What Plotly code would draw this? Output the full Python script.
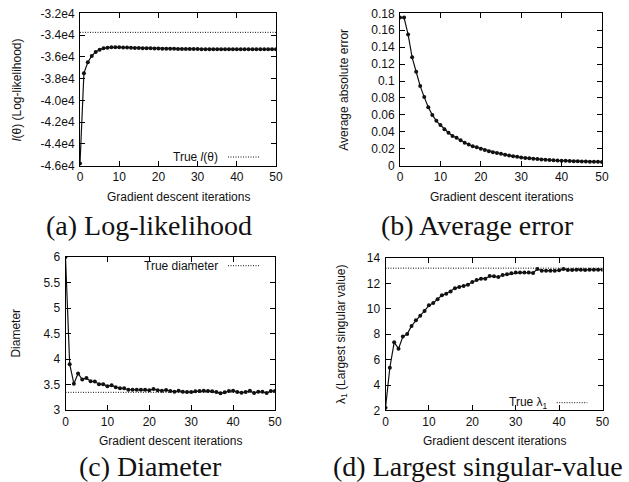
import plotly.graph_objects as go

W, H = 629, 482

# ---------------- data ----------------
ITER = list(range(51))

TRUE_LL = -33750
LOGLIK = [-45800, -37500, -36500, -35920, -35550, -35340, -35220, -35160, -35130, -35120,
          -35130, -35140, -35150, -35160, -35180, -35190, -35200, -35210, -35220, -35230,
          -35240, -35250, -35255, -35260, -35265, -35270, -35275, -35280, -35285, -35290,
          -35290, -35292, -35294, -35295, -35296, -35297, -35298, -35299, -35300, -35300,
          -35301, -35302, -35303, -35304, -35305, -35306, -35307, -35308, -35309, -35310,
          -35310]

AVG_ERR = [0.175, 0.175, 0.155, 0.128, 0.111, 0.094, 0.081, 0.069, 0.060, 0.053,
           0.048, 0.043, 0.039, 0.035, 0.033, 0.030, 0.027, 0.025, 0.023, 0.0217,
           0.020, 0.0185, 0.017, 0.016, 0.015, 0.014, 0.013, 0.012, 0.0112, 0.0105,
           0.0098, 0.0092, 0.0087, 0.0082, 0.0078, 0.0074, 0.0070, 0.0067, 0.0064, 0.0061,
           0.0059, 0.0057, 0.0055, 0.0053, 0.0052, 0.0050, 0.0049, 0.0048, 0.0047, 0.0046,
           0.0045]

TRUE_DIAM = 3.35
DIAM = [6.0, 3.90, 3.52, 3.72, 3.60, 3.63, 3.565, 3.56, 3.51, 3.51,
        3.47, 3.49, 3.45, 3.43, 3.43, 3.40, 3.40, 3.40, 3.40, 3.40,
        3.39, 3.415, 3.39, 3.38, 3.395, 3.375, 3.36, 3.38, 3.36, 3.355,
        3.355, 3.37, 3.375, 3.38, 3.375, 3.37, 3.355, 3.33, 3.35, 3.375,
        3.38, 3.355, 3.34, 3.355, 3.38, 3.335, 3.36, 3.36, 3.335, 3.375,
        3.375]

TRUE_LAMBDA = 13.2
LAMBDA1 = [2.2, 5.36, 7.36, 6.86, 7.81, 8.02, 8.65, 9.09, 9.46, 9.83,
           10.27, 10.46, 10.75, 11.06, 11.19, 11.37, 11.61, 11.72, 11.80, 11.90,
           12.11, 12.27, 12.37, 12.37, 12.58, 12.56, 12.50, 12.66, 12.72, 12.79,
           12.85, 12.85, 12.85, 12.85, 12.82, 13.13, 13.0, 13.0, 13.0, 13.0,
           13.03, 13.13, 13.06, 13.06, 13.08, 13.08, 13.06, 13.08, 13.08, 13.08,
           13.08]

X_TICKS = [0, 10, 20, 30, 40, 50]
LL_TICKS = [-46000, -44000, -42000, -40000, -38000, -36000, -34000, -32000]
LL_LABELS = ["-4.6e4", "-4.4e4", "-4.2e4", "-4.0e4", "-3.8e4", "-3.6e4", "-3.4e4", "-3.2e4"]
ERR_TICKS = [0, 0.02, 0.04, 0.06, 0.08, 0.1, 0.12, 0.14, 0.16, 0.18]
ERR_LABELS = ["0", "0.02", "0.04", "0.06", "0.08", "0.1", "0.12", "0.14", "0.16", "0.18"]
DIAM_TICKS = [3, 3.5, 4, 4.5, 5, 5.5, 6]
DIAM_LABELS = ["3", "3.5", "4", "4.5", "5", "5.5", "6"]
LAM_TICKS = [2, 4, 6, 8, 10, 12, 14]

# ---------------- helpers ----------------
def px(x):
    return x / W

def py(y):
    return 1 - y / H

SANS = "Liberation Sans"
SERIF = "Liberation Serif"
INK = "#111111"
DOTS = "1px,1.5px"

# panel boxes in pixels: (left, right, top, bottom)
BOX = {
    "1": (80, 276, 13.3, 165.7),
    "2": (400, 602, 13.3, 165.7),
    "3": (65.5, 275, 257, 410.2),
    "4": (385.5, 602.5, 258, 410.4),
}

fig = go.Figure()

def add_panel(k, y, true_val, yrange, yticks, ylabels):
    xa = "x" if k == "1" else "x" + k
    ya = "y" if k == "1" else "y" + k
    fig.add_trace(go.Scatter(x=ITER, y=y, mode="lines+markers", xaxis=xa, yaxis=ya,
                             line=dict(color=INK, width=1.2),
                             marker=dict(color=INK, size=4, symbol="circle"),
                             showlegend=False, hoverinfo="skip"))
    if true_val is not None:
        fig.add_trace(go.Scatter(x=[ITER[0], ITER[-1]], y=[true_val, true_val], mode="lines",
                                 xaxis=xa, yaxis=ya,
                                 line=dict(color=INK, width=1, dash=DOTS),
                                 showlegend=False, hoverinfo="skip"))
    l, r, t, b = BOX[k]
    common = dict(showline=True, mirror="allticks", linecolor="black", linewidth=1,
                  ticks="inside", ticklen=5, tickcolor="black", tickwidth=1,
                  showgrid=False, zeroline=False, automargin=False,
                  tickfont=dict(family=SANS, size=12, color=INK))
    xkey = "xaxis" if k == "1" else "xaxis" + k
    ykey = "yaxis" if k == "1" else "yaxis" + k
    fig.update_layout(**{
        xkey: dict(domain=[px(l), px(r)], range=[0, 50], tickvals=X_TICKS,
                   anchor=ya, **common),
        ykey: dict(domain=[py(b), py(t)], range=yrange, tickvals=yticks,
                   ticktext=ylabels, anchor=xa, ticklabelstandoff=2, **common),
    })

add_panel("1", LOGLIK, TRUE_LL, [-46000, -32000], LL_TICKS, LL_LABELS)
add_panel("2", AVG_ERR, None, [0, 0.18], ERR_TICKS, ERR_LABELS)
add_panel("3", DIAM, TRUE_DIAM, [3, 6], DIAM_TICKS, DIAM_LABELS)
add_panel("4", LAMBDA1, TRUE_LAMBDA, [2, 14], LAM_TICKS, [str(v) for v in LAM_TICKS])

annotations = []
shapes = []

def text(x, y, s, size=12, family=SANS, xanchor="center", angle=0):
    annotations.append(dict(x=px(x), y=py(y), xref="paper", yref="paper", text=s,
                            showarrow=False, xanchor=xanchor, yanchor="middle",
                            textangle=angle,
                            font=dict(family=family, size=size, color=INK)))

# x-axis titles
for k, yy in (("1", 196.7), ("2", 196.7), ("3", 441), ("4", 441)):
    l, r, t, b = BOX[k]
    text((l + r) / 2, yy, "Gradient descent iterations")

# y-axis titles
text(16.7, 89.5, "<i>l</i>(θ) (Log-likelihood)", angle=-90)
text(343.3, 89.5, "Average absolute error", angle=-90)
text(16, 333.6, "Diameter", angle=-90)
text(341.7, 334.2, "λ<sub>1</sub> (Largest singular value)", angle=-90)

# in-plot keys
def key(x_text_right, y, label, x0, x1):
    text(x_text_right, y, label, xanchor="right")
    shapes.append(dict(type="line", xref="paper", yref="paper",
                       x0=px(x0), x1=px(x1), y0=py(y), y1=py(y),
                       line=dict(color=INK, width=1, dash=DOTS)))

key(220, 157, "True <i>l</i>(θ)", 228, 259)
key(220, 265.7, "True diameter", 228, 259)
key(550, 402.7, "True λ<sub>1</sub>", 556.7, 587.3)

# captions
text(149, 225, "(a) Log-likelihood", size=28, family=SERIF)
text(477, 225, "(b) Average error", size=28, family=SERIF)
text(150, 466, "(c) Diameter", size=28, family=SERIF)
text(477.5, 466, "(d) Largest singular-value", size=28, family=SERIF)

fig.update_layout(template="none", width=W, height=H,
                  margin=dict(l=0, r=0, t=0, b=0, pad=0, autoexpand=False),
                  paper_bgcolor="white", plot_bgcolor="white",
                  annotations=annotations, shapes=shapes, showlegend=False)

fig.write_html("out.html", config={"displayModeBar": False},
               post_script="document.body.style.margin='0';document.body.style.overflow='hidden';")
